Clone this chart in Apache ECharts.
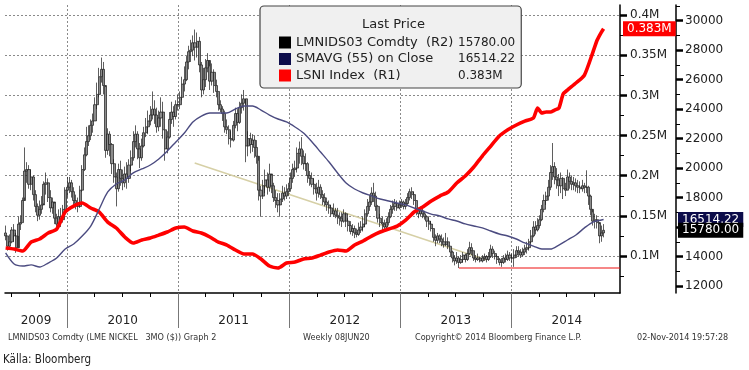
<!DOCTYPE html>
<html><head><meta charset="utf-8">
<script src="https://cdn.jsdelivr.net/npm/echarts@6/dist/echarts.min.js"></script>
<style>html,body{margin:0;padding:0;background:#fff}#c{width:749px;height:370px}</style>
</head><body><div id="c"></div>
<script>
// ---------------- DATA ----------------
const firstWeek = '2009-06-12';            // weekly bars, every Friday
const closes = [15400,14700,15000,15800,15400,14600,16200,16300,17800,19800,19900,18900,19400,18200,17400,16800,17200,17500,18900,19000,18000,17300,17700,16600,16200,16700,16500,17200,18500,18700,19000,18400,17800,17600,17400,18500,19900,20900,21800,22200,22900,23200,24300,25000,26200,26700,25600,21200,22300,21600,20300,19400,18600,19900,19300,19000,19600,19300,20200,20700,21800,22300,21300,20700,21500,22400,22800,23200,23600,24000,23600,22800,23400,23800,22600,21300,22100,23300,23800,23500,24300,24300,24800,25700,26000,27200,27900,28000,28500,28200,28600,27000,25300,26000,26800,27300,25900,26500,25600,25200,24300,24000,23700,22800,22600,22000,21900,22900,23700,23100,24100,24400,24700,21500,22000,21600,21900,21400,20800,18500,18100,18800,19200,18700,19600,18800,18000,17800,17500,17900,18300,18100,18400,18600,19300,19900,20000,21000,21300,20800,20300,20300,19500,19300,18900,18600,18300,18700,18200,18000,17700,17500,17300,16900,17100,16800,16700,16600,16400,16900,16400,16100,15700,15900,15600,15500,15800,16000,16200,16900,17400,17700,18300,18100,17400,16600,16300,16200,16000,16300,16700,17200,17400,17600,17300,17500,17700,17400,17600,18000,18400,18200,17800,17200,16900,17100,16900,16700,16400,16200,15900,15300,15100,15400,15200,15000,14800,15000,14700,14300,13900,13700,13900,13600,13800,14100,13800,14200,14600,14400,13900,13800,13900,13700,13900,14000,13800,14000,14500,14200,14000,13800,13600,13600,13900,13800,14100,13900,13900,14100,14400,14300,14100,14300,14500,14600,15000,15400,16000,15800,16100,16500,17200,17800,18100,18700,19700,20100,19400,19200,18800,19300,18600,18500,19400,19100,18900,19000,18800,18700,18600,18800,18700,18700,18100,17200,16400,16500,16300,15400,15600,15780];
const lows = [15100,14400,14500,14900,15000,14250,15400,15800,16300,18000,19000,18600,18500,17800,17000,16400,16500,16900,17600,18200,17700,17000,16900,16200,15800,16000,16000,16300,17200,18000,18300,18000,17500,17200,17000,17300,18400,19800,20800,21500,21900,22400,23200,24000,24800,25800,25000,20700,20900,20800,19600,19000,17400,18400,18800,18500,18700,18600,19000,19800,20500,21400,20600,20000,20500,21400,22100,22300,22900,23300,23000,22400,22500,22800,22000,20500,21000,22000,23000,22800,23300,23900,24000,24600,25200,25900,26700,27200,27600,27300,27500,26500,24800,25000,25500,26500,25300,25600,25100,24800,23900,23800,23200,22400,22300,21600,21400,21800,22700,22500,23000,23700,23900,20400,20800,21000,21100,20700,20300,17800,16700,17900,18300,18200,18400,18300,17700,17300,17000,16700,17700,17800,17900,18100,18400,19000,19400,19700,20300,20200,19900,19800,19000,18800,18700,18200,17800,18000,17900,17500,17400,17100,16900,16700,16700,16600,16200,16100,16000,16300,16000,15700,15500,15400,15250,15300,15400,15600,15700,16000,16700,17100,17500,17700,17100,16300,16000,15800,15800,15900,16100,16600,16900,17100,17100,17200,17300,17200,17200,17500,17800,17900,17500,16800,16600,16700,16600,16500,16000,15800,15700,15000,14700,14900,14900,14700,14600,14700,14500,14000,13600,13400,13500,13220,13500,13600,13600,13700,14100,14100,13700,13600,13700,13600,13600,13700,13600,13700,13900,13900,13800,13500,13400,13300,13500,13600,13700,13700,13600,13300,13900,14000,13900,14000,14100,14200,14400,14900,15300,15500,15700,15900,16400,17000,17500,17800,18500,19200,18900,18600,18100,18300,17900,18100,18500,18600,18500,18500,18400,18300,18300,18400,18300,18300,17500,16800,16100,15900,15900,14900,15000,15300];
const highs = [16100,15400,15500,16000,16200,15600,16700,16800,18000,21400,20400,20200,19900,19500,18500,17600,17800,18100,19100,19700,19300,18500,18000,17600,16900,17200,17300,17500,18700,19400,19400,19200,18700,18200,18000,18800,20200,21400,22800,22900,23300,23700,24800,25800,26800,27500,27200,25500,22700,22500,21700,20600,19700,20300,20500,19900,20100,20400,20600,21200,22500,22900,22500,21700,22000,22800,23400,23900,24200,25200,24600,24100,23900,24800,24500,22600,22500,23800,24500,24200,24600,25000,25200,26200,26900,27600,28300,28700,29000,29400,29200,28900,27200,26800,27400,27800,26900,27100,26700,26000,25200,24600,24200,23900,23300,22900,22500,23200,24100,24000,24500,25000,25300,24300,22500,22400,22300,22200,21900,20500,18800,19200,19900,19700,20300,19500,19000,18500,18300,18300,18800,18700,18900,19000,19700,20300,20500,21400,21800,22100,21200,21000,20400,19800,19700,19300,19000,19200,18900,18500,18300,18000,17800,17500,17600,17300,17300,17000,17000,17200,17000,16600,16400,16200,16100,15900,16300,16400,16700,17200,17900,18200,18700,19000,18400,17500,16900,16700,16500,16600,17000,17500,17800,17900,17800,17800,17900,17800,17900,18300,18600,18700,18400,17800,17300,17400,17300,17100,16800,16600,16400,15900,15500,15600,15500,15500,15300,15600,15300,14700,14400,14100,14300,14000,14100,14300,14200,14500,15000,14900,14400,14100,14200,14000,14100,14200,14100,14300,14800,14700,14400,14100,13900,13900,14100,14200,14400,14300,14200,14500,14700,14700,14500,14600,14800,15000,15200,15800,16400,16400,16600,16800,17500,18200,18400,19200,20200,21700,20400,20000,19600,19700,19400,19000,19900,19700,19500,19400,19300,19200,19100,19200,19000,19850,18800,18200,17000,16900,16800,16200,16100,16200];
// 55-week moving average, read at week numbers
const smaWeek = [0,4,8,12,16,20,24,28,32,36,40,44,48,52,56,60,64,68,72,76,80,84,88,92,96,100,104,108,112,116,120,124,128,132,136,140,144,148,152,156,160,164,168,172,176,180,184,188,192,196,200,204,208,212,216,220,224,228,232,236,240,244,248,252,256,260,264,268,272,276,280,281];
const smaVal = [14240,13490,13360,13430,13290,13560,13900,14510,14850,15390,16070,17220,18380,18920,19190,19670,19940,20210,20620,21160,21770,22380,23130,23530,23740,23740,23740,24010,24210,24210,23940,23600,23330,23130,22790,22380,21770,21090,20410,19670,18990,18580,18310,18110,17900,17770,17630,17500,17290,17090,16880,16750,16550,16410,16210,16070,15940,15730,15530,15390,15190,14920,14710,14510,14510,14780,15120,15460,15940,16340,16480,16514.22];
// LSNI Index (LME nickel stocks, tonnes), read at week numbers
const lsniWeek = [0,4,8,12,16,20,24,28,32,36,40,44,48,52,56,60,64,68,72,76,80,84,88,92,96,100,104,108,112,116,120,124,128,132,136,140,144,148,152,156,160,164,168,172,176,180,184,188,192,196,200,204,208,212,216,220,224,228,232,236,240,244,248,250,252,254,256,258,260,262,264,268,272,276,278,280,281];
const lsniVal = [110000,108700,106200,117400,121200,128600,133600,154800,162200,166000,159800,154800,142300,134900,123700,116200,119900,122400,126100,129900,134900,136100,131100,128600,123700,117400,113700,107500,102500,102500,96300,87600,85100,91300,92500,96300,97500,101200,105000,107500,106200,113700,118700,124900,129900,133600,137300,144800,154800,161000,168500,174700,179700,190900,199600,210800,224500,236900,249400,257200,263100,268000,271800,284200,278000,279300,279300,281700,284200,301700,306600,315400,325300,353900,368900,378800,383000];
const trendLine = [['2011-02-24', 20340], ['2013-10-11', 13760]];
const supportLine = [['2013-07-12', 13220], ['2014-12-24', 13220]];
const yearLabels = ['2009', '2010', '2011', '2012', '2013', '2014'];
const r1Ticks = [100000, 150000, 200000, 250000, 300000, 350000, 400000];
const r1Labels = ['0.1M', '0.15M', '0.2M', '0.25M', '0.3M', '0.35M', '0.4M'];
const r2Ticks = [12000, 14000, 16000, 18000, 20000, 22000, 24000, 26000, 28000, 30000];
const r2Labels = ['12000', '14000', '16000', '18000', '20000', '22000', '24000', '26000', '28000', '30000'];
const legendNames = ['LMNIDS03 Comdty  (R2)', 'SMAVG (55) on Close', 'LSNI Index  (R1)'];
const legendValues = ['15780.00', '16514.22', '0.383M'];
const lsniTag = '0.383M';

// ---------------- BUILD ----------------
const DAY = 864e5;
const p = s => { const a = s.split('-').map(Number); return Date.UTC(a[0], a[1] - 1, a[2]); };
const t0 = p(firstWeek);
const wk = i => t0 + i * 7 * DAY;
const ohlc = closes.map((c, i) => [wk(i), i ? closes[i - 1] : 15600, c, lows[i], highs[i]]);
const sma = smaWeek.map((w, k) => [wk(w), smaVal[k]]);
const lsni = lsniWeek.map((w, k) => [wk(w), lsniVal[k]]);
const xMin = p('2009-06-10'), xMax = p('2014-12-24');
const yearTicks = [2010, 2011, 2012, 2013, 2014].map(y => Date.UTC(y, 0, 1));
const quarterTicks = [];
[2009, 2010, 2011, 2012, 2013, 2014].forEach(y => [3, 6, 9].forEach(m => { const t = Date.UTC(y, m, 1); if (t > xMin && t < xMax) quarterTicks.push(t); }));
const labelPos = [Date.UTC(2009, 8, 20)].concat([2010, 2011, 2012, 2013, 2014].map(y => Date.UTC(y, 6, 2)));
const FONT = 'DejaVu Sans';
const grid = { left: 5, right: 129, top: 5, bottom: 77, outerBoundsMode: 'none' };
const dash = { color: '#8a8a8a', type: [2, 2], width: 1 };
const footStyle = { fontSize: 9, fontWeight: 'normal', color: '#333', fontFamily: 'DejaVu Sans Condensed' };
const hidden = { color: 'rgba(0,0,0,0)', width: 0 };
const tag = (bg, dist, text) => ({ show: true, position: 'end', distance: dist, formatter: text, color: '#fff', opacity: 1,
  backgroundColor: bg, padding: [2, 4, 1, 4], fontSize: 12, fontFamily: FONT });

const option = {
  animation: false,
  backgroundColor: '#ffffff',
  textStyle: { fontFamily: FONT },
  title: [
    { text: 'Last Price', left: 362, top: 18, padding: 0, z: 10, textStyle: { fontSize: 13, fontWeight: 'normal', color: '#222', fontFamily: FONT } },
    { text: 'LMNIDS03 Comdty (LME NICKEL   3MO ($)) Graph 2', left: 8, top: 333, padding: 0, textStyle: footStyle },
    { text: 'Weekly 08JUN20', left: 303, top: 333, padding: 0, textStyle: footStyle },
    { text: 'Copyright\u00a9 2014 Bloomberg Finance L.P.', left: 415, top: 333, padding: 0, textStyle: footStyle },
    { text: '02-Nov-2014 19:57:28', left: 637, top: 333, padding: 0, textStyle: footStyle },
    { text: 'K\u00e4lla: Bloomberg', left: 3, top: 354, padding: 0, textStyle: { fontSize: 11.5, fontWeight: 'normal', color: '#222', fontFamily: "'Liberation Sans Narrow', 'DejaVu Sans Condensed'" } }
  ],
  legend: {
    orient: 'vertical', left: 260, top: 6, z: 5,
    padding: [30, 6, 6, 19], itemGap: 3.5, itemWidth: 12, itemHeight: 12, icon: 'rect',
    selectedMode: false,
    backgroundColor: '#f0f0f0', borderColor: '#444', borderWidth: 1.2, borderRadius: 4,
    data: [
      { name: legendNames[0], itemStyle: { color: '#000', borderWidth: 0 } },
      { name: legendNames[1], itemStyle: { color: '#0c0c4a', borderWidth: 0 } },
      { name: legendNames[2], itemStyle: { color: '#ff0000', borderWidth: 0 } }
    ],
    formatter: name => '{n|' + name + '}{v|' + legendValues[legendNames.indexOf(name)] + '}',
    textStyle: { fontSize: 13, color: '#222', fontFamily: FONT,
      rich: { n: { width: 162, fontSize: 13, lineHeight: 13, fontFamily: FONT, color: '#222' },
              v: { fontSize: 12, lineHeight: 13, fontFamily: FONT, color: '#222' } } }
  },
  grid: grid,
  xAxis: [
    { type: 'value', min: xMin, max: xMax, position: 'bottom',
      axisLine: { lineStyle: { color: '#000', width: 1.5 } },
      axisTick: { customValues: yearTicks, length: 35, lineStyle: { color: '#777', width: 1 } },
      axisLabel: { customValues: labelPos, margin: 22, fontSize: 12, color: '#222', fontFamily: FONT,
        formatter: v => yearLabels[yearLabels.indexOf(String(new Date(v).getUTCFullYear()))] },
      splitLine: { show: true, lineStyle: dash } },
    { type: 'value', min: xMin, max: xMax, position: 'bottom',
      axisLine: { show: false },
      axisTick: { customValues: quarterTicks, length: 4, lineStyle: { color: '#000', width: 1 } },
      axisLabel: { show: false }, splitLine: { show: false } }
  ],
  yAxis: [
    { type: 'value', position: 'right', offset: 0, min: 54000, max: 412500,
      axisLine: { show: true, lineStyle: { color: '#000', width: 1.5 } },
      axisTick: { show: true, customValues: r1Ticks, length: 7, lineStyle: { color: '#000', width: 2.5 } },
      axisLabel: { customValues: r1Ticks, margin: 10, fontSize: 12, color: '#222', fontFamily: FONT,
        formatter: v => r1Labels[r1Ticks.indexOf(v)] },
      splitLine: { show: true, lineStyle: dash } },
    { type: 'value', position: 'right', offset: 0, min: 54000, max: 412500,
      axisLine: { show: false },
      axisTick: { show: true, customValues: [75000, 125000, 175000, 225000, 275000, 325000, 375000], length: 4, lineStyle: { color: '#000', width: 1 } },
      axisLabel: { show: false }, splitLine: { show: false } },
    { type: 'value', position: 'right', offset: 56, min: 11525, max: 31065,
      axisLine: { show: true, lineStyle: { color: '#000', width: 1.5 } },
      axisTick: { show: true, customValues: r2Ticks, length: 7, lineStyle: { color: '#000', width: 2.5 } },
      axisLabel: { customValues: r2Ticks, margin: 9, fontSize: 12, color: '#222', fontFamily: FONT,
        formatter: v => r2Labels[r2Ticks.indexOf(v)] },
      splitLine: { show: false } },
    { type: 'value', position: 'right', offset: 56, min: 11525, max: 31065,
      axisLine: { show: false },
      axisTick: { show: true, customValues: [13000, 15000, 17000, 19000, 21000, 23000, 25000, 27000, 29000, 31000], length: 4, lineStyle: { color: '#000', width: 1 } },
      axisLabel: { show: false }, splitLine: { show: false } }
  ],
  series: [
    { name: 'trend', type: 'line', xAxisIndex: 0, yAxisIndex: 2, data: trendLine.map(d => [p(d[0]), d[1]]),
      symbol: 'none', silent: true, z: 1, lineStyle: { color: '#d6d0a6', width: 1.5 } },
    { name: legendNames[0], type: 'candlestick', xAxisIndex: 0, yAxisIndex: 2, data: ohlc,
      encode: { x: 0, y: [1, 2, 3, 4] }, barWidth: 2.6, silent: true, z: 2,
      itemStyle: { color: '#8c8c8c', color0: '#8c8c8c', borderColor: '#1a1a1a', borderColor0: '#1a1a1a', borderWidth: 0.7 } },
    { name: 'support', type: 'line', xAxisIndex: 0, yAxisIndex: 2, data: supportLine.map(d => [p(d[0]), d[1]]),
      symbol: 'none', silent: true, z: 3, lineStyle: { color: '#ee1111', width: 1.2 } },
    { name: legendNames[2], type: 'line', xAxisIndex: 0, yAxisIndex: 0, data: lsni,
      symbol: 'none', smooth: 0.2, silent: true, z: 4, lineStyle: { color: '#ff0000', width: 3.6 },
      markLine: { silent: true, symbol: 'none', lineStyle: hidden, z: 10,
        data: [{ yAxis: lsniVal[lsniVal.length - 1], lineStyle: hidden, label: tag('#ff0000', 3, lsniTag) }] } },
    { name: legendNames[1], type: 'line', xAxisIndex: 0, yAxisIndex: 2, data: sma,
      symbol: 'none', smooth: 0.3, silent: true, z: 5, lineStyle: { color: '#4b4b80', width: 1.4 },
      markLine: { silent: true, symbol: 'none', lineStyle: hidden, z: 10,
        data: [
          { yAxis: smaVal[smaVal.length - 1], lineStyle: hidden, label: tag('#0c0c4a', 58, smaVal[smaVal.length - 1].toFixed(2)) },
          { yAxis: closes[closes.length - 1], lineStyle: hidden, label: tag('#000000', 58, closes[closes.length - 1].toFixed(2)) }
        ] } }
  ]
};
const chart = echarts.init(document.getElementById('c'), null, { renderer: 'canvas' });
chart.setOption(option);
</script></body></html>
